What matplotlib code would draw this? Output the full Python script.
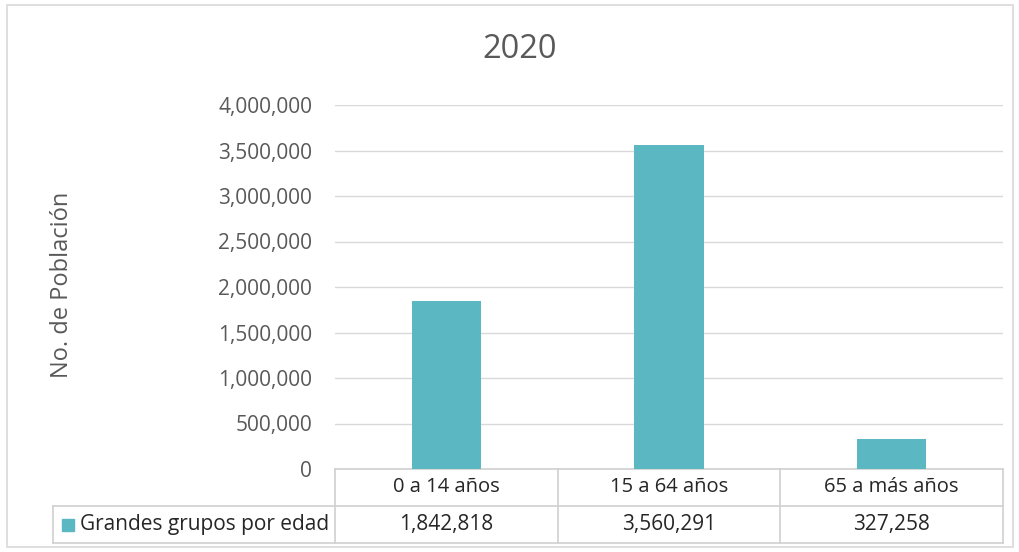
import matplotlib.pyplot as plt
import matplotlib.transforms as mtransforms
from matplotlib.patches import Rectangle
from matplotlib.ticker import FuncFormatter

categories = ['0 a 14 años', '15 a 64 años', '65 a más años']
values = [1842818, 3560291, 327258]
series_name = 'Grandes grupos por edad'
title = '2020'
y_label = 'No. de Población'

bar_color = '#5BB7C1'
text_color = '#595959'
grid_color = '#D9D9D9'
line_color = '#D0D0D0'

plt.rcParams['font.family'] = ['Open Sans', 'DejaVu Sans']

fig = plt.figure(figsize=(10.2, 5.52), dpi=100)
ax = fig.add_axes([335 / 1020, 83 / 552, 668 / 1020, 364 / 552])

x = list(range(len(categories)))
ax.bar(x, values, width=0.31, color=bar_color, zorder=3)
ax.set_xlim(-0.5, len(categories) - 0.5)
ax.set_ylim(0, 4000000)
ax.set_yticks(range(0, 4000001, 500000))
ax.yaxis.set_major_formatter(FuncFormatter(lambda v, p: '{:,.0f}'.format(v)))
ax.tick_params(axis='y', length=0, labelsize=15, labelcolor=text_color, pad=16.5)
ax.set_xticks([])
ax.grid(axis='y', color=grid_color, linewidth=1, zorder=0)
for s in ax.spines.values():
  s.set_visible(False)

fig.text(520 / 1020, 1 - 50 / 552, title, ha='center', va='center',
         fontsize=23.5, color=text_color)
fig.text(62 / 1020, 1 - 285 / 552, y_label, ha='center', va='center',
         rotation=90, fontsize=17, color=text_color)

# data table under the axes
row_h = 37 / 364
left_x = (53 - 335) / 668
trans = mtransforms.blended_transform_factory(ax.transData, ax.transAxes)
kw = dict(color=line_color, linewidth=1.2, clip_on=False)

ax.plot([0, 1], [0, 0], transform=ax.transAxes, **kw)
ax.plot([left_x, 1], [-row_h, -row_h], transform=ax.transAxes, **kw)
ax.plot([left_x, 1], [-2 * row_h, -2 * row_h], transform=ax.transAxes, **kw)
ax.plot([left_x, left_x], [-row_h, -2 * row_h], transform=ax.transAxes, **kw)
for b in [i - 0.5 for i in range(len(categories) + 1)]:
  ax.plot([b, b], [0, -2 * row_h], transform=trans, **kw)

for i, (c, v) in enumerate(zip(categories, values)):
  ax.text(i, -row_h / 2, c, transform=trans, ha='center', va='center',
          fontsize=14.5, color='#262626')
  ax.text(i, -1.5 * row_h, '{:,}'.format(v), transform=trans, ha='center',
          va='center', fontsize=15, color='#262626')

ax.add_patch(Rectangle(((62 - 335) / 668, -1.5 * row_h - 6 / 364), 12 / 668, 12 / 364,
                       transform=ax.transAxes, color=bar_color, clip_on=False))
ax.text((80 - 335) / 668, -1.5 * row_h, series_name, transform=ax.transAxes,
        ha='left', va='center', fontsize=15, color='#262626')

# outer chart border
fig.patches.append(Rectangle((7 / 1020, 5 / 552), 1006 / 1020, 542 / 552,
                             transform=fig.transFigure, fill=False,
                             edgecolor=grid_color, linewidth=1.2))

fig.savefig('out.png', dpi=100)
